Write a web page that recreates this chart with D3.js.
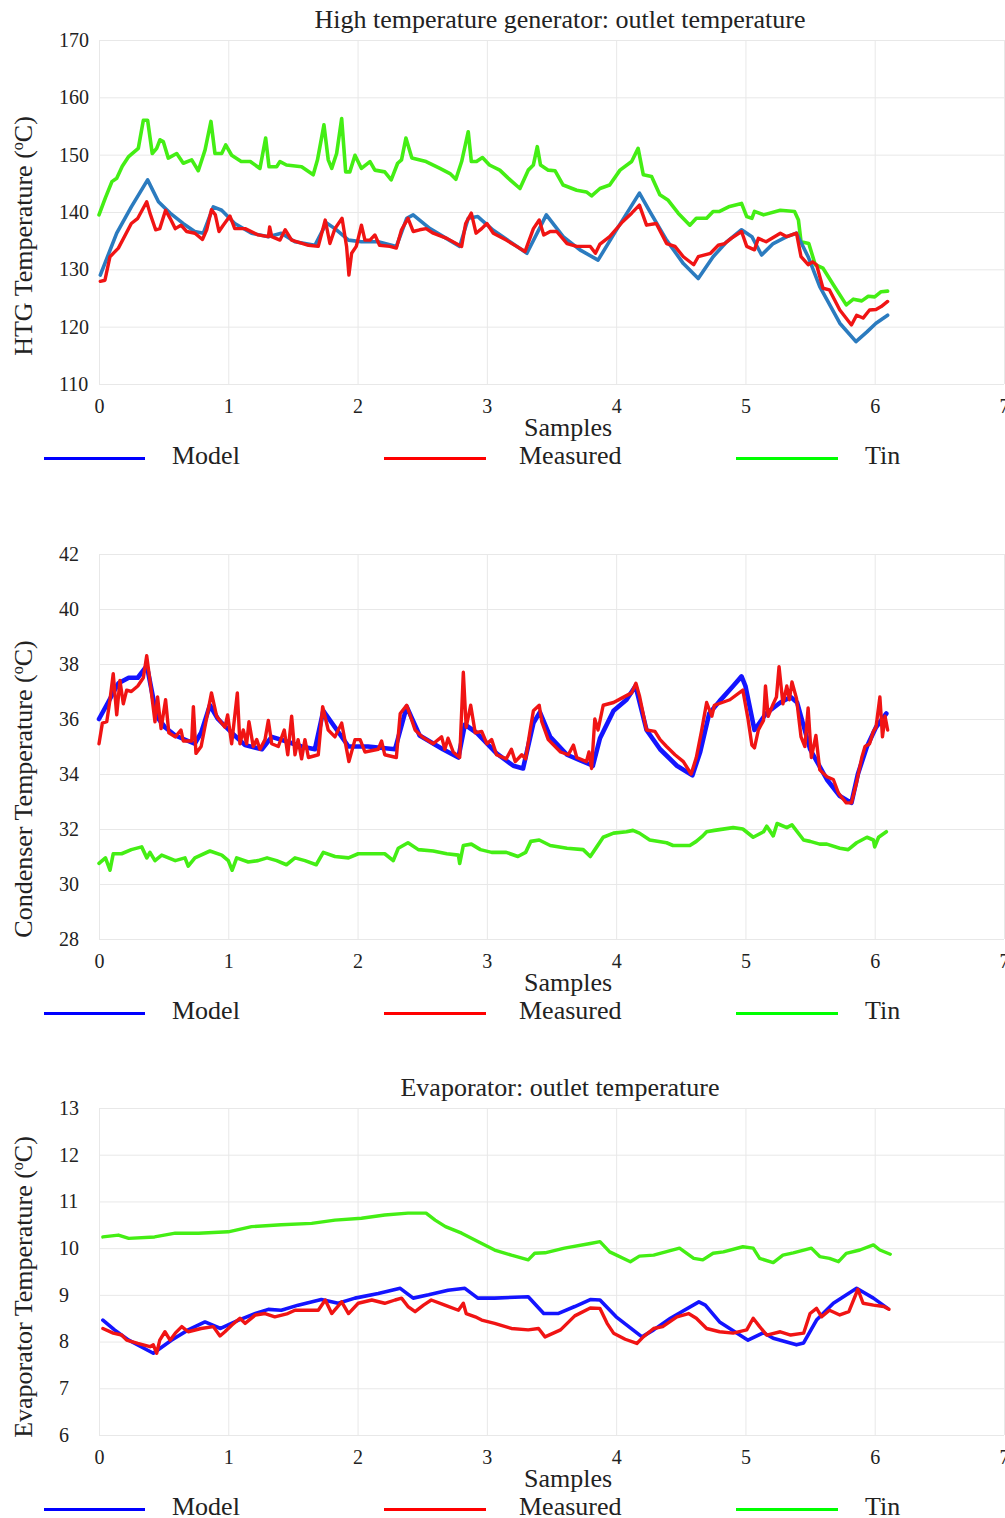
<!DOCTYPE html>
<html>
<head>
<meta charset="utf-8">
<script src="https://cdn.jsdelivr.net/npm/d3@7"></script>
<style>
  html, body { margin: 0; padding: 0; background: #fff; }
  svg { display: block; font-family: "Liberation Serif", "Times New Roman", serif; }
  svg text { font-family: "Liberation Serif", "Times New Roman", serif !important; }
</style>
</head>
<body>
<svg id="chart" width="1005" height="1518"></svg>
<script>
// ---------- DATA (x in samples, y in °C) ----------
const xTicks = [0, 1, 2, 3, 4, 5, 6, 7];
const legendLabels = ["Model", "Measured", "Tin"];

const htgTicks = [110, 120, 130, 140, 150, 160, 170];
const htgModel = [[0.01,129.0],[0.137,136.3],[0.25,140.9],[0.376,145.6],[0.46,141.8],[0.55,139.8],[0.65,138.0],[0.74,136.6],[0.807,136.3],[0.884,140.9],[0.949,140.3],[1.05,138.0],[1.18,136.3],[1.31,135.7],[1.41,136.3],[1.516,134.8],[1.67,134.2],[1.76,138.1],[1.825,137.1],[1.93,135.1],[2.03,134.8],[2.16,134.8],[2.30,134.0],[2.38,138.9],[2.43,139.5],[2.56,137.1],[2.79,134.0],[2.856,138.9],[2.93,139.2],[3.05,136.8],[3.31,132.8],[3.46,139.5],[3.59,135.7],[3.72,133.4],[3.86,131.6],[4.0,136.8],[4.18,143.3],[4.26,140.1],[4.39,135.1],[4.52,131.0],[4.635,128.4],[4.75,132.2],[4.855,134.8],[4.97,136.9],[5.05,135.7],[5.125,132.5],[5.215,134.5],[5.32,135.7],[5.395,136.3],[5.485,132.2],[5.575,127.0],[5.73,120.6],[5.855,117.4],[5.94,119.1],[6.01,120.6],[6.10,122.0]];
const htgMeasured = [[0.01,127.9],[0.046,128.1],[0.085,132.2],[0.15,133.7],[0.25,138.0],[0.30,138.9],[0.369,141.8],[0.394,139.8],[0.438,136.9],[0.47,137.1],[0.515,140.3],[0.55,138.9],[0.59,137.1],[0.634,137.7],[0.678,136.6],[0.742,136.3],[0.80,135.2],[0.833,136.9],[0.87,140.4],[0.90,139.5],[0.928,136.6],[0.961,137.7],[1.013,139.3],[1.05,137.1],[1.13,137.1],[1.23,136.0],[1.31,135.7],[1.32,137.4],[1.336,135.7],[1.40,135.1],[1.44,136.9],[1.49,135.1],[1.62,134.2],[1.696,134.0],[1.75,138.6],[1.786,134.5],[1.825,137.1],[1.88,138.9],[1.915,134.0],[1.933,129.0],[1.954,132.8],[1.99,134.0],[2.03,137.7],[2.057,135.1],[2.096,135.1],[2.134,136.0],[2.17,134.2],[2.25,134.0],[2.30,133.7],[2.34,136.9],[2.39,138.9],[2.43,136.6],[2.48,136.9],[2.53,137.1],[2.585,136.3],[2.69,135.4],[2.805,134.0],[2.836,138.0],[2.88,139.8],[2.916,136.3],[2.96,137.1],[3.0,138.0],[3.05,136.3],[3.15,135.1],[3.23,134.0],[3.295,133.1],[3.36,137.1],[3.405,138.6],[3.44,136.0],[3.49,136.6],[3.54,136.6],[3.62,134.5],[3.695,134.0],[3.80,134.0],[3.84,132.8],[3.875,134.4],[3.95,135.7],[4.05,138.3],[4.12,139.8],[4.18,141.2],[4.235,137.7],[4.31,138.0],[4.39,134.5],[4.455,134.0],[4.52,132.2],[4.60,130.8],[4.635,132.2],[4.73,132.8],[4.79,134.2],[4.84,134.5],[4.89,135.4],[4.97,136.6],[5.01,134.0],[5.07,133.4],[5.10,135.4],[5.16,134.8],[5.27,136.3],[5.32,135.7],[5.395,136.3],[5.43,132.2],[5.485,130.8],[5.52,131.3],[5.55,130.8],[5.60,126.7],[5.65,126.4],[5.73,122.9],[5.82,120.3],[5.86,122.0],[5.91,121.5],[5.96,122.9],[6.01,123.0],[6.05,123.5],[6.10,124.4]];
const htgTin = [[0.0,139.5],[0.05,142.5],[0.10,145.3],[0.137,145.9],[0.18,148.0],[0.227,149.6],[0.304,151.1],[0.343,156.0],[0.376,156.0],[0.412,150.2],[0.446,151.1],[0.472,152.6],[0.497,152.3],[0.536,149.4],[0.601,150.2],[0.652,148.5],[0.717,149.1],[0.768,147.2],[0.82,150.8],[0.866,155.8],[0.897,150.2],[0.949,150.2],[0.98,151.7],[1.026,149.9],[1.10,148.8],[1.17,148.8],[1.245,147.6],[1.289,152.9],[1.315,147.9],[1.374,147.9],[1.40,148.8],[1.45,148.2],[1.567,147.9],[1.657,146.5],[1.69,149.1],[1.74,155.2],[1.773,149.1],[1.80,147.6],[1.838,150.2],[1.877,156.3],[1.908,147.0],[1.94,147.0],[1.98,149.9],[2.03,147.6],[2.096,148.8],[2.134,147.3],[2.21,147.0],[2.26,145.6],[2.31,148.5],[2.34,149.1],[2.374,152.9],[2.42,149.4],[2.53,148.8],[2.637,147.6],[2.715,146.7],[2.76,145.7],[2.805,148.8],[2.856,154.0],[2.88,148.8],[2.92,148.8],[2.966,149.5],[3.02,148.2],[3.10,147.3],[3.165,145.9],[3.256,144.1],[3.32,147.3],[3.36,148.2],[3.39,151.4],[3.415,148.2],[3.475,147.3],[3.527,147.2],[3.59,144.7],[3.695,143.8],[3.77,143.5],[3.81,142.8],[3.875,144.1],[3.95,144.7],[4.03,147.3],[4.12,148.8],[4.17,151.1],[4.21,146.5],[4.274,146.2],[4.338,143.0],[4.40,142.1],[4.48,139.8],[4.57,137.7],[4.62,138.9],[4.70,138.9],[4.75,140.1],[4.80,140.1],[4.87,140.9],[4.97,141.5],[5.01,139.2],[5.05,138.9],[5.07,140.1],[5.14,139.5],[5.27,140.3],[5.38,140.1],[5.41,138.6],[5.43,134.8],[5.49,134.5],[5.54,130.8],[5.60,130.2],[5.68,127.3],[5.78,123.8],[5.835,124.8],[5.90,124.5],[5.95,125.3],[6.0,125.2],[6.05,126.1],[6.10,126.2]];

const condTicks = [28, 30, 32, 34, 36, 38, 40, 42];
const condModel = [[0.0,36.0],[0.07,36.6],[0.15,37.3],[0.23,37.5],[0.30,37.5],[0.356,37.85],[0.38,37.7],[0.446,36.1],[0.51,35.7],[0.59,35.4],[0.74,35.1],[0.79,35.5],[0.858,36.5],[0.92,36.0],[1.026,35.5],[1.13,35.05],[1.26,34.9],[1.336,35.35],[1.44,35.2],[1.567,35.0],[1.67,34.9],[1.735,36.3],[1.825,35.7],[1.93,35.0],[2.08,35.0],[2.29,34.9],[2.38,36.45],[2.48,35.4],[2.66,34.9],[2.78,34.6],[2.83,35.8],[2.92,35.5],[3.075,34.75],[3.205,34.3],[3.28,34.2],[3.36,35.85],[3.41,36.25],[3.49,35.35],[3.62,34.7],[3.77,34.4],[3.82,34.3],[3.875,35.3],[3.98,36.3],[4.08,36.7],[4.15,37.2],[4.235,35.6],[4.34,34.9],[4.47,34.3],[4.59,33.95],[4.65,34.8],[4.72,36.2],[4.80,36.65],[4.905,37.2],[4.97,37.55],[5.0,37.2],[5.07,35.6],[5.16,36.2],[5.27,36.6],[5.35,36.8],[5.40,36.6],[5.50,34.9],[5.63,33.8],[5.73,33.2],[5.82,32.95],[5.87,34.0],[5.94,35.0],[6.01,35.7],[6.09,36.2]];
const condMeasured = [[0.0,35.1],[0.026,35.85],[0.06,35.9],[0.085,36.7],[0.11,37.65],[0.137,36.15],[0.162,37.4],[0.188,36.55],[0.214,37.05],[0.25,37.0],[0.30,37.2],[0.343,37.5],[0.369,38.3],[0.394,37.4],[0.433,35.9],[0.453,36.8],[0.48,35.65],[0.515,36.7],[0.54,35.5],[0.59,35.35],[0.634,35.6],[0.652,35.2],[0.717,35.2],[0.73,36.45],[0.75,34.75],[0.79,35.0],[0.87,36.95],[0.91,36.1],[0.974,35.7],[0.995,36.15],[1.026,35.1],[1.07,36.95],[1.09,35.1],[1.116,35.6],[1.142,35.1],[1.16,35.9],[1.193,35.0],[1.22,35.25],[1.245,34.9],[1.284,35.25],[1.31,35.95],[1.336,35.1],[1.387,35.0],[1.433,35.6],[1.46,34.7],[1.49,36.1],[1.516,34.7],[1.54,35.25],[1.567,34.55],[1.593,35.25],[1.62,34.6],[1.696,34.7],[1.73,36.45],[1.773,35.6],[1.825,35.35],[1.877,35.85],[1.933,34.45],[1.98,35.25],[2.02,35.25],[2.057,34.8],[2.16,34.9],[2.186,35.2],[2.21,34.7],[2.30,34.6],[2.33,36.2],[2.38,36.5],[2.445,35.6],[2.50,35.35],[2.585,35.1],[2.65,35.35],[2.675,34.9],[2.70,35.3],[2.74,34.8],[2.79,34.6],[2.818,37.7],[2.84,35.7],[2.875,36.5],[2.91,35.5],[2.96,35.55],[3.0,35.1],[3.037,35.25],[3.075,34.7],[3.15,34.55],[3.19,34.9],[3.22,34.45],[3.27,34.7],[3.30,34.55],[3.335,35.6],[3.36,36.3],[3.405,36.5],[3.425,35.9],[3.475,35.25],[3.57,34.8],[3.63,34.7],[3.67,35.05],[3.695,34.6],[3.77,34.45],[3.79,34.8],[3.81,34.2],[3.835,36.0],[3.86,35.6],[3.90,36.5],[3.98,36.6],[4.04,36.75],[4.12,36.95],[4.153,37.3],[4.18,36.85],[4.235,35.6],[4.30,35.55],[4.34,35.25],[4.39,35.0],[4.455,34.7],[4.52,34.45],[4.58,34.0],[4.62,34.6],[4.66,35.55],[4.70,36.6],[4.74,36.1],[4.76,36.5],[4.88,36.7],[4.98,37.05],[5.02,36.0],[5.05,35.05],[5.07,34.95],[5.10,35.6],[5.14,35.95],[5.155,37.2],[5.176,36.1],[5.215,36.55],[5.24,36.8],[5.26,37.9],[5.29,36.55],[5.32,37.2],[5.34,36.7],[5.36,37.35],[5.395,36.75],[5.43,35.35],[5.46,35.0],[5.485,36.4],[5.51,34.6],[5.545,35.4],[5.575,34.15],[5.63,33.9],[5.68,33.8],[5.72,33.3],[5.78,32.95],[5.82,32.95],[5.86,33.7],[5.90,34.6],[5.925,35.0],[5.96,35.1],[5.99,35.55],[6.01,35.7],[6.04,36.8],[6.06,35.35],[6.08,36.1],[6.10,35.6]];
const condTin = [[0.0,30.75],[0.05,30.95],[0.085,30.5],[0.11,31.1],[0.175,31.1],[0.25,31.25],[0.33,31.35],[0.37,30.95],[0.394,31.15],[0.433,30.85],[0.485,31.05],[0.59,30.85],[0.665,30.95],[0.69,30.65],[0.742,30.95],[0.858,31.2],[0.95,31.05],[1.0,30.85],[1.03,30.5],[1.065,30.95],[1.155,30.8],[1.23,30.85],[1.30,30.95],[1.374,30.85],[1.45,30.7],[1.516,30.95],[1.593,30.85],[1.68,30.7],[1.735,31.15],[1.825,31.0],[1.93,30.95],[2.005,31.1],[2.11,31.1],[2.21,31.1],[2.276,30.85],[2.315,31.3],[2.39,31.5],[2.47,31.25],[2.585,31.2],[2.69,31.1],[2.78,31.05],[2.79,30.75],[2.818,31.4],[2.88,31.45],[2.95,31.25],[3.037,31.15],[3.15,31.15],[3.24,31.0],[3.30,31.15],[3.34,31.55],[3.405,31.6],[3.49,31.4],[3.62,31.3],[3.745,31.25],[3.80,31.0],[3.85,31.35],[3.90,31.7],[3.98,31.85],[4.08,31.9],[4.13,31.95],[4.18,31.85],[4.26,31.6],[4.39,31.5],[4.44,31.4],[4.57,31.4],[4.62,31.55],[4.67,31.75],[4.70,31.9],[4.76,31.95],[4.905,32.05],[4.98,32.0],[5.06,31.7],[5.14,31.9],[5.165,32.1],[5.215,31.75],[5.245,32.2],[5.32,32.05],[5.36,32.15],[5.45,31.6],[5.50,31.55],[5.575,31.45],[5.63,31.45],[5.73,31.3],[5.795,31.25],[5.86,31.5],[5.94,31.7],[5.99,31.6],[6.0,31.35],[6.03,31.7],[6.09,31.9]];

const evapTicks = [6, 7, 8, 9, 10, 11, 12, 13];
const evapModel = [[0.03,8.46],[0.12,8.25],[0.23,8.03],[0.42,7.75],[0.56,8.03],[0.69,8.25],[0.82,8.42],[0.94,8.28],[1.08,8.46],[1.21,8.6],[1.31,8.69],[1.41,8.67],[1.54,8.78],[1.72,8.9],[1.85,8.82],[1.98,8.93],[2.16,9.03],[2.33,9.14],[2.43,8.93],[2.55,9.0],[2.70,9.1],[2.83,9.14],[2.93,8.93],[3.06,8.93],[3.32,8.96],[3.44,8.6],[3.55,8.6],[3.68,8.75],[3.80,8.9],[3.875,8.89],[4.0,8.53],[4.20,8.1],[4.29,8.25],[4.42,8.5],[4.64,8.85],[4.69,8.78],[4.80,8.42],[5.02,8.03],[5.14,8.19],[5.215,8.07],[5.395,7.93],[5.45,7.97],[5.55,8.46],[5.68,8.82],[5.86,9.14],[5.99,8.93],[6.10,8.71]];
const evapMeasured = [[0.03,8.28],[0.11,8.18],[0.175,8.14],[0.214,8.03],[0.30,7.96],[0.394,7.89],[0.42,7.93],[0.446,7.75],[0.47,8.03],[0.51,8.21],[0.55,8.03],[0.59,8.18],[0.64,8.32],[0.69,8.21],[0.79,8.28],[0.884,8.32],[0.936,8.12],[0.974,8.21],[1.026,8.35],[1.09,8.5],[1.13,8.39],[1.21,8.57],[1.284,8.6],[1.36,8.53],[1.46,8.6],[1.516,8.67],[1.62,8.67],[1.696,8.67],[1.75,8.89],[1.80,8.6],[1.877,8.85],[1.93,8.6],[2.005,8.82],[2.11,8.89],[2.21,8.82],[2.29,8.89],[2.34,8.93],[2.39,8.75],[2.445,8.64],[2.51,8.78],[2.57,8.89],[2.675,8.78],[2.78,8.67],[2.818,8.82],[2.84,8.6],[2.91,8.53],[2.96,8.46],[3.06,8.39],[3.19,8.28],[3.32,8.25],[3.40,8.28],[3.45,8.1],[3.57,8.25],[3.68,8.55],[3.80,8.72],[3.875,8.71],[3.93,8.39],[3.98,8.18],[4.07,8.05],[4.16,7.96],[4.21,8.1],[4.29,8.28],[4.36,8.32],[4.47,8.53],[4.56,8.6],[4.62,8.5],[4.70,8.28],[4.80,8.21],[4.905,8.18],[5.01,8.25],[5.06,8.5],[5.11,8.32],[5.165,8.14],[5.27,8.21],[5.35,8.14],[5.45,8.18],[5.50,8.6],[5.55,8.71],[5.59,8.53],[5.65,8.67],[5.73,8.57],[5.80,8.64],[5.87,9.12],[5.91,8.82],[5.99,8.78],[6.07,8.75],[6.11,8.69]];
const evapTin = [[0.03,10.24],[0.15,10.28],[0.23,10.21],[0.43,10.24],[0.59,10.32],[0.77,10.32],[1.0,10.35],[1.18,10.46],[1.41,10.5],[1.645,10.53],[1.825,10.6],[2.03,10.64],[2.21,10.71],[2.39,10.75],[2.53,10.75],[2.60,10.6],[2.68,10.46],[2.805,10.32],[2.93,10.14],[3.06,9.96],[3.19,9.85],[3.32,9.75],[3.37,9.89],[3.45,9.9],[3.60,10.0],[3.80,10.1],[3.875,10.14],[3.95,9.92],[4.11,9.71],[4.18,9.83],[4.29,9.85],[4.49,10.0],[4.60,9.78],[4.67,9.75],[4.75,9.89],[4.83,9.92],[4.98,10.03],[5.06,10.0],[5.11,9.78],[5.215,9.69],[5.29,9.85],[5.37,9.9],[5.51,10.0],[5.575,9.82],[5.65,9.78],[5.72,9.71],[5.78,9.89],[5.885,9.96],[5.99,10.07],[6.04,9.96],[6.12,9.87]];

// ---------- LAYOUT ----------
const svg = d3.select("#chart");
const X0 = 99, X1 = 1004;
const tickFont = 20, bigFont = 26;
const serif = '"Liberation Serif", "Times New Roman", serif';
const legendColors = ["#0000ff", "#ff0000", "#00ff00"];
const legendLineX = [[44, 145], [384, 486], [736, 838]];
const legendTextX = [172, 519, 865];

const panels = [
  { top: 40, bottom: 384, domain: [110, 170], ticks: htgTicks,
    title: "High temperature generator: outlet temperature", titleY: 28,
    ylabel: "HTG Temperature (", ylabelCY: 236,
    series: [
      { data: htgTin, color: "#44ee14", w: 3.6 },
      { data: htgModel, color: "#2b7bbf", w: 3.6 },
      { data: htgMeasured, color: "#f01414", w: 3.4 }
    ] },
  { top: 554, bottom: 939, domain: [28, 42], ticks: condTicks,
    title: null, ylabel: "Condenser Temperature (", ylabelCY: 789,
    series: [
      { data: condTin, color: "#44ee14", w: 3.6 },
      { data: condModel, color: "#1414ff", w: 4.6 },
      { data: condMeasured, color: "#f01414", w: 3.4 }
    ] },
  { top: 1108, bottom: 1435, domain: [6, 13], ticks: evapTicks,
    title: "Evaporator: outlet temperature", titleY: 1096,
    ylabel: "Evaporator Temperature (", ylabelCY: 1287,
    series: [
      { data: evapTin, color: "#44ee14", w: 3.4 },
      { data: evapModel, color: "#1414ff", w: 3.6 },
      { data: evapMeasured, color: "#f01414", w: 3.4 }
    ] }
];

const x = d3.scaleLinear().domain([0, 7]).range([X0, X1]);

panels.forEach(p => {
  const y = d3.scaleLinear().domain(p.domain).range([p.bottom, p.top]);
  const h = p.bottom - p.top;

  // x grid + tick labels
  const gx = svg.append("g").attr("transform", `translate(0,${p.bottom})`)
    .call(d3.axisBottom(x).tickValues(xTicks).tickSize(-h).tickPadding(15).tickFormat(d3.format("d")));
  gx.attr("font-family", serif).attr("font-size", tickFont);
  gx.select(".domain").remove();
  gx.selectAll("line").attr("stroke", "#e8e8e8").attr("stroke-width", 1);
  gx.selectAll("text").attr("fill", "#222").style("font-family", serif).style("font-size", tickFont + "px");

  // y grid + tick labels (left aligned at x=59)
  const gy = svg.append("g").attr("transform", `translate(${X0},0)`)
    .call(d3.axisLeft(y).tickValues(p.ticks).tickSize(-(X1 - X0)).tickPadding(9).tickFormat(d3.format("d")));
  gy.attr("font-family", serif).attr("font-size", tickFont);
  gy.select(".domain").remove();
  gy.selectAll("line").attr("stroke", "#e8e8e8").attr("stroke-width", 1);
  gy.selectAll("text").attr("fill", "#222")
    .style("font-family", serif).style("font-size", tickFont + "px")
    .attr("text-anchor", "start").attr("x", 59 - X0);

  // series
  const line = d3.line().x(d => x(d[0])).y(d => y(d[1]));
  p.series.forEach(s => {
    svg.append("path").datum(s.data)
      .attr("d", line)
      .attr("fill", "none")
      .attr("stroke", s.color)
      .attr("stroke-width", s.w)
      .attr("stroke-linejoin", "round")
      .attr("stroke-linecap", "round");
  });

  // title
  if (p.title) {
    svg.append("text").attr("x", 560).attr("y", p.titleY)
      .attr("text-anchor", "middle").attr("font-size", bigFont).attr("fill", "#222")
      .text(p.title);
  }

  // y-axis label
  const yl = svg.append("text")
    .attr("transform", `translate(32,${p.ylabelCY}) rotate(-90)`)
    .attr("text-anchor", "middle").attr("font-size", bigFont).attr("fill", "#222");
  yl.append("tspan").text(p.ylabel);
  yl.append("tspan").attr("font-size", 16).attr("dy", -9).text("o");
  yl.append("tspan").attr("dy", 9).text("C)");

  // x-axis label
  svg.append("text").attr("x", 568).attr("y", p.bottom + 52)
    .attr("text-anchor", "middle").attr("font-size", bigFont).attr("fill", "#222")
    .text("Samples");

  // legend
  const ly = p.bottom + 74;
  legendLabels.forEach((lab, i) => {
    svg.append("line")
      .attr("x1", legendLineX[i][0]).attr("x2", legendLineX[i][1])
      .attr("y1", ly + 0.5).attr("y2", ly + 0.5)
      .attr("stroke", legendColors[i]).attr("stroke-width", 3.2);
    svg.append("text").attr("x", legendTextX[i]).attr("y", ly + 6)
      .attr("font-size", bigFont).attr("fill", "#222").text(lab);
  });
});
</script>
</body>
</html>
